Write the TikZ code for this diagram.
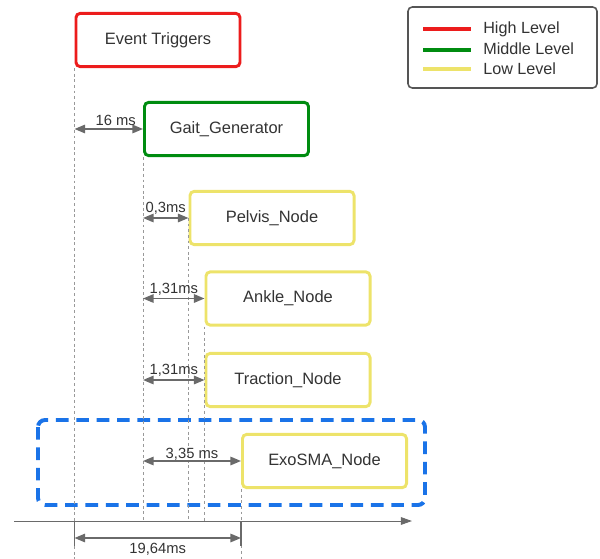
\documentclass[tikz,border=0pt]{standalone}
\usepackage{fontspec}
\setmainfont{Liberation Sans}
\usepackage{tikz}
\usetikzlibrary{arrows.meta, positioning}

\definecolor{hired}{HTML}{EC1C1C}
\definecolor{midgreen}{HTML}{008C10}
\definecolor{lowyellow}{HTML}{EDE36A}
\definecolor{exoblue}{HTML}{1A73E8}
\definecolor{txtgray}{HTML}{333333}
\definecolor{arrgray}{HTML}{6A6A6A}

\tikzset{
  lvlbox/.style={draw, rounded corners=3pt, line width=2.1pt, minimum width=4.1cm,
    minimum height=1.33cm, inner sep=0pt, text=txtgray, font=\fontsize{11.7}{13}\selectfont},
  highbox/.style={lvlbox, draw=hired},
  midbox/.style={lvlbox, draw=midgreen},
  lowbox/.style={lvlbox, draw=lowyellow},
  guide/.style={draw=gray!80, line width=0.5pt, dash pattern=on 2pt off 2pt},
  dimarrow/.style={arrgray, line width=1.1pt, {Triangle[length=7.5pt,width=6pt]}-{Triangle[length=7.5pt,width=6pt]}},
  dimlbl/.style={text=txtgray, font=\fontsize{10.5}{12}\selectfont, inner sep=1pt},
  legtxt/.style={text=txtgray, font=\fontsize{11.5}{13}\selectfont, anchor=west, inner sep=0pt},
  legline/.style={line width=2.6pt}
}

\begin{document}
\begin{tikzpicture}[x=0.025cm, y=-0.025cm]
\useasboundingbox (0,0) rectangle (600,559);

\node[highbox] (event) at (158,40) {Event Triggers};
\node[midbox] (gait) at (226.5,129) {Gait\_Generator};
\node[lowbox] (pelvis) at (272,218) {Pelvis\_Node};
\node[lowbox] (ankle) at (288,298.5) {Ankle\_Node};
\node[lowbox] (traction) at (288,380) {Traction\_Node};
\node[lowbox] (exo) at (324.5,461) {ExoSMA\_Node};

\draw[exoblue, line width=2.8pt, dash pattern=on 9pt off 5.5pt, rounded corners=5pt]
  (38,420) rectangle (425,505);

\coordinate (t0) at (14,521);
\coordinate (tend) at (412,521);
\draw[arrgray, line width=0.7pt, -{Triangle[length=8pt,width=5.5pt]}] (t0) -- (tend);

\draw[guide] (event.south west) -- (event.south west |- 0,559);
\draw[guide] (gait.south west) -- (gait.south west |- t0);
\draw[guide] (pelvis.west) -- (pelvis.south west |- t0);
\draw[guide] (ankle.south west) -- (ankle.south west |- t0);
\draw[guide] (exo.south west) -- (exo.south west |- 0,559);
\draw[arrgray, line width=0.9pt] (event.south west |- t0) -- (event.south west |- 0,546);
\draw[arrgray, line width=0.9pt] (exo.south west |- t0) -- (exo.south west |- 0,546);

\draw[dimarrow] (event.south west |- gait.west) -- node[dimlbl, above=1pt, xshift=5pt] (d16) {16 ms} (gait.west);
\draw[dimarrow] (gait.south west |- pelvis.west) -- node[dimlbl, above=1pt] (d03) {0,3ms} (pelvis.west);
\draw[dimarrow] (gait.south west |- ankle.west) -- node[dimlbl, above=1pt] (d131a) {1,31ms} (ankle.west);
\draw[dimarrow] (gait.south west |- traction.west) -- node[dimlbl, above=1pt] (d131b) {1,31ms} (traction.west);
\draw[dimarrow] (gait.south west |- exo.west) -- node[dimlbl, above=-1pt] (d335) {3,35 ms} (exo.west);
\draw[dimarrow] (event.south west |- 0,538) -- node[dimlbl, below=2pt] (d1964) {19,64ms} (exo.south west |- 0,538);

\draw[draw=arrgray!80!black, line width=1.1pt, rounded corners=3pt] (408,7) rectangle (597,88);
\node[legtxt] (lhigh) at (483,29) {High Level};
\node[legtxt] (lmid) at (483,49) {Middle Level};
\node[legtxt] (llow) at (483,69) {Low Level};
\draw[legline, hired] (423,29) -- (471,29);
\draw[legline, midgreen] (423,50) -- (471,50);
\draw[legline, lowyellow] (423,69) -- (471,69);
\end{tikzpicture}
\end{document}
